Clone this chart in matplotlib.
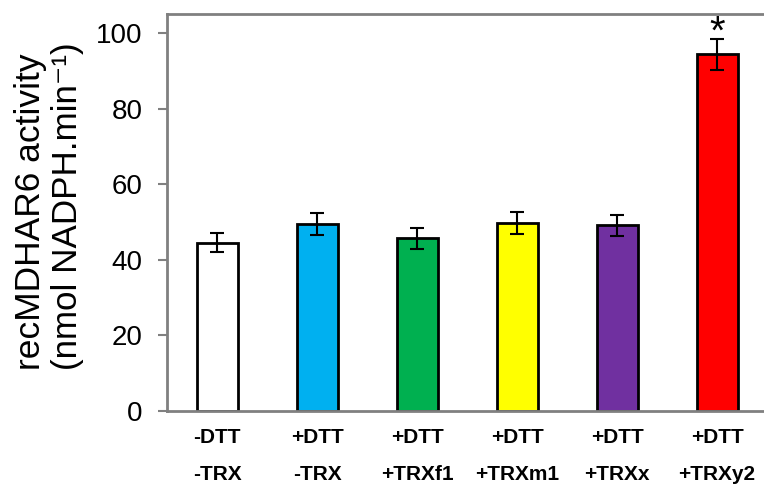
import numpy as np
import matplotlib
matplotlib.use('Agg')
import matplotlib.pyplot as plt

plt.rcParams['font.family'] = ['Liberation Sans', 'DejaVu Sans']

labels = ['-DTT\n-TRX', '+DTT\n-TRX', '+DTT\n+TRXf1', '+DTT\n+TRXm1', '+DTT\n+TRXx', '+DTT\n+TRXy2']
values = [44.5, 49.4, 45.7, 49.7, 49.1, 94.3]
errors = [2.5, 2.9, 2.8, 3.0, 2.8, 4.0]
colors = ['#FFFFFF', '#00B0F0', '#00B050', '#FFFF00', '#7030A0', '#FF0000']
yticks = [0, 20, 40, 60, 80, 100]
ylabel_lines = ['recMDHAR6 activity', '(nmol NADPH.min\u207b\u00b9)']

W, H = 764, 493
fig = plt.figure(figsize=(W / 100, H / 100), dpi=100)
ax = fig.add_axes([167 / W, 82 / H, 597 / W, 397 / H])

x = np.arange(len(values))
ax.bar(x, values, width=0.41, color=colors, edgecolor='black', linewidth=2,
       yerr=errors, error_kw=dict(ecolor='black', elinewidth=1.5, capsize=4.7, capthick=1.5))
# significance mark over the last bar
ax.text(x[-1], 97.1, '*', ha='center', va='baseline', fontsize=29)

ax.set_xlim(-0.5, 5.47)
ax.set_ylim(0, 105)
ax.set_yticks(yticks)
ax.set_xticks(x)
ax.set_xticklabels(labels, fontweight='bold', fontsize=15, linespacing=2.2)
ax.tick_params(axis='x', length=0, pad=12)
ax.tick_params(axis='y', labelsize=20, length=6.5, width=1.5, color='#808080', direction='out', pad=11)

for s in ['left', 'bottom', 'top']:
    ax.spines[s].set_color('#808080')
    ax.spines[s].set_linewidth(2)
ax.spines['right'].set_visible(False)

# y label: two lines, both starting at the same height
fig.text(31 / W, 1 - 370 / H, ylabel_lines[0], rotation=90, ha='center', va='bottom', fontsize=25.5)
fig.text(68 / W, 1 - 370 / H, ylabel_lines[1], rotation=90, ha='center', va='bottom', fontsize=25.2)

fig.savefig('out.png', dpi=100)
